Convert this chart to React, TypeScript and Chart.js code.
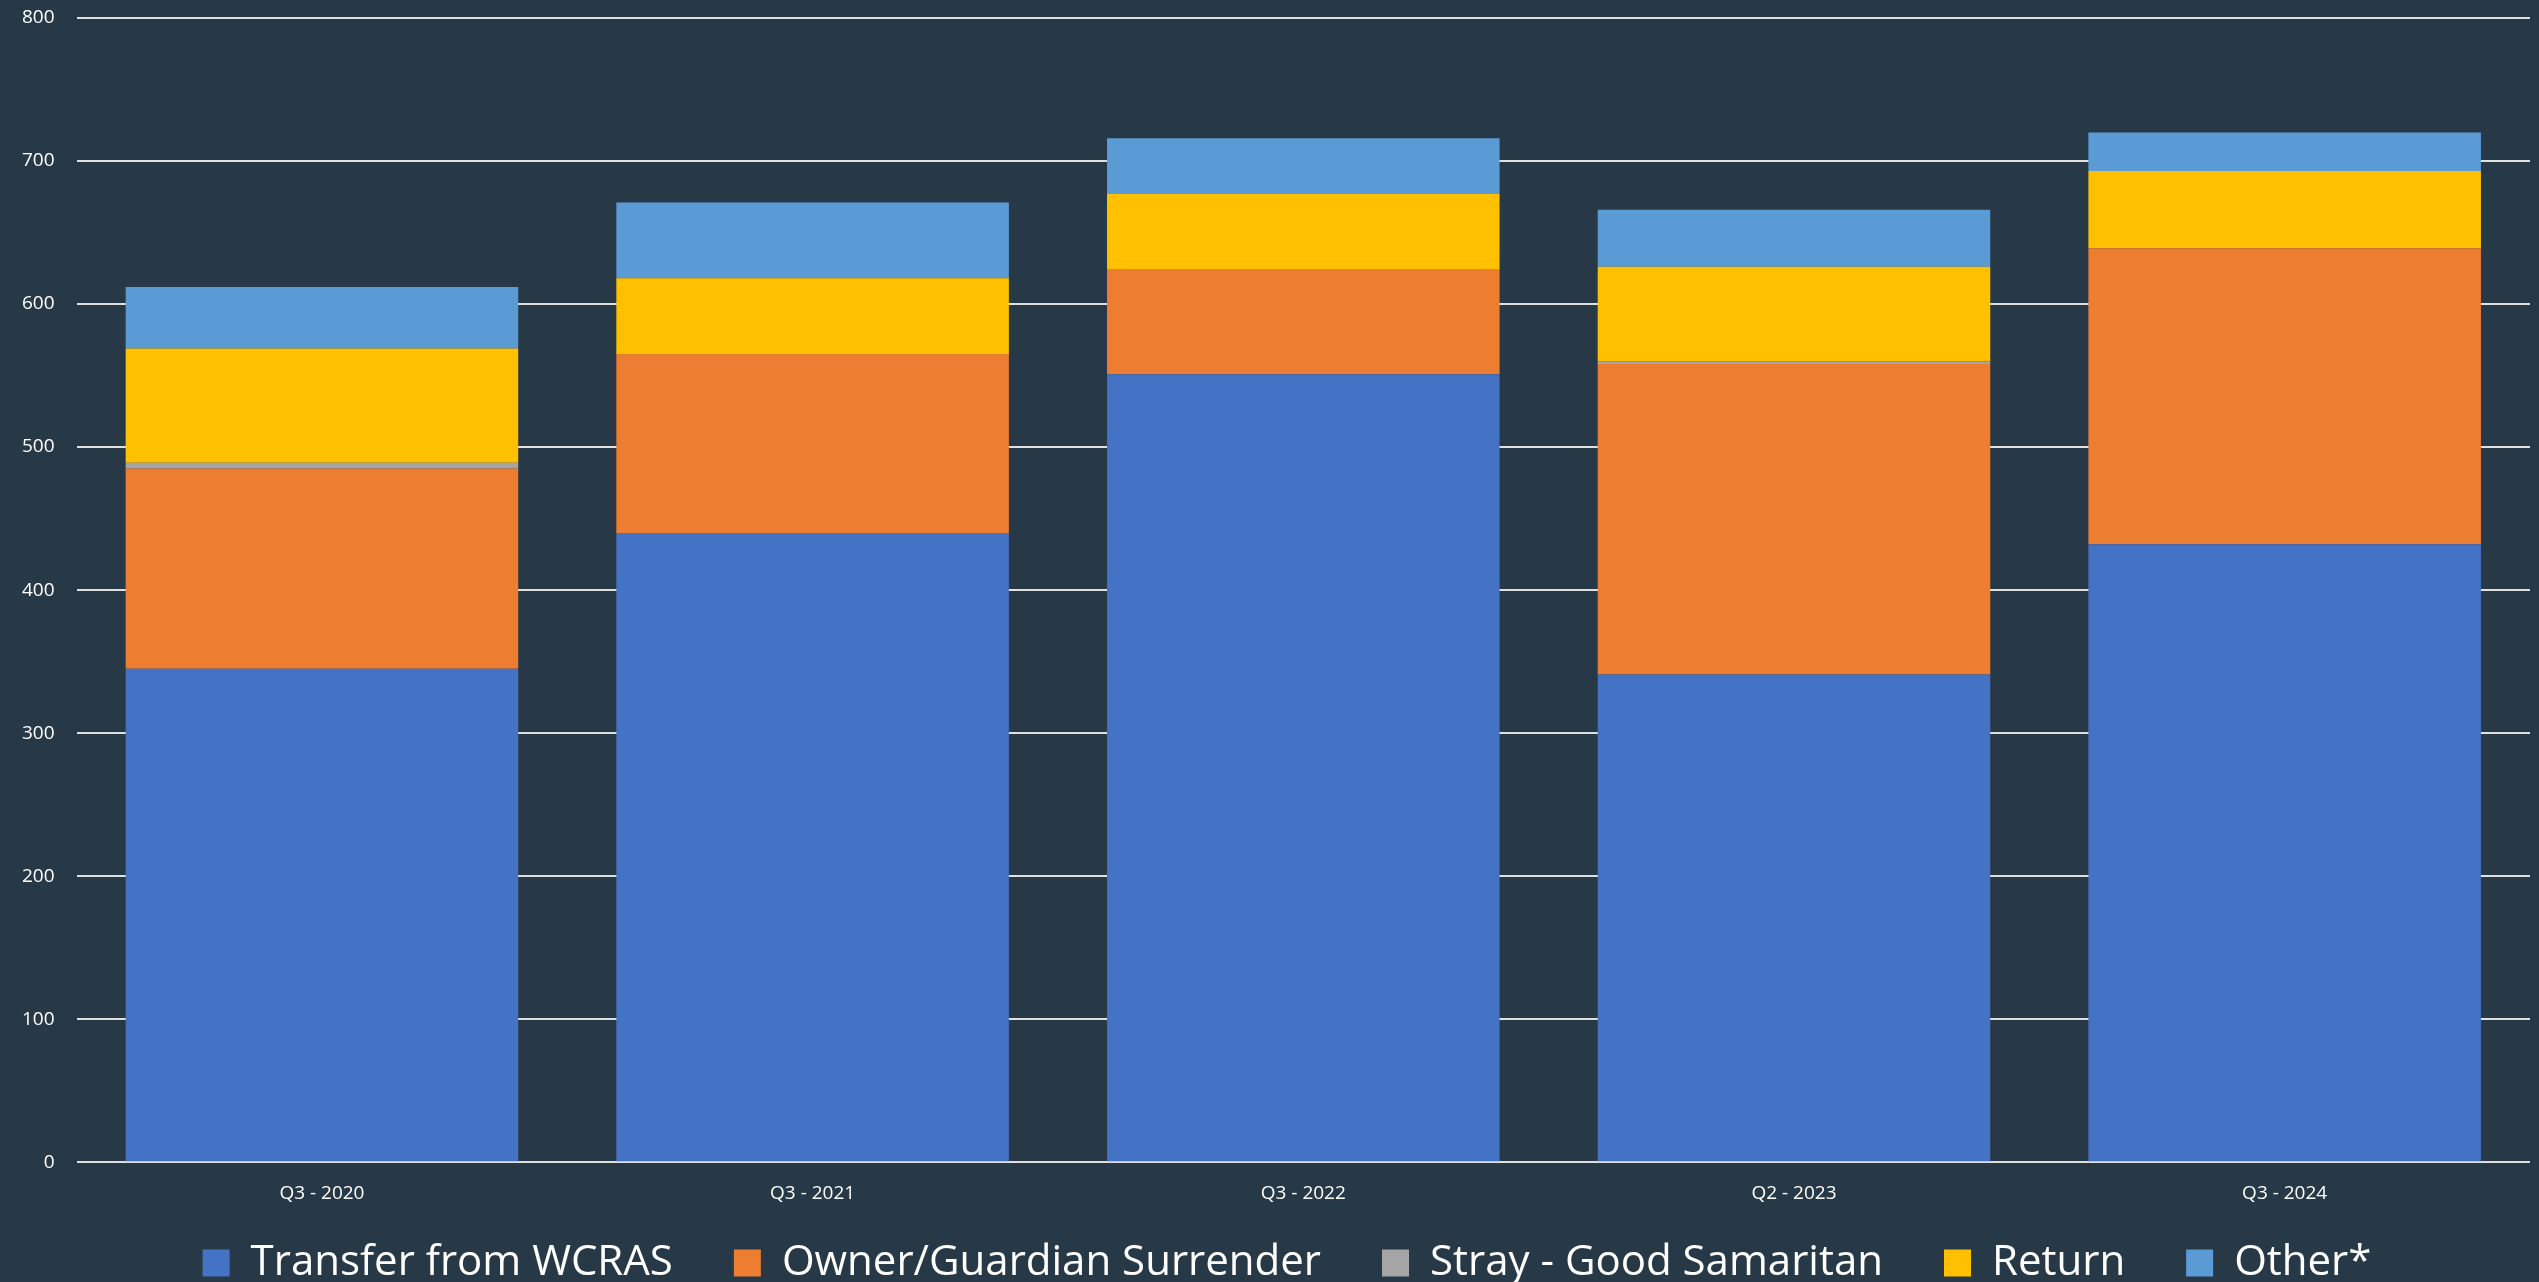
import React, { useEffect, useRef } from "react";
import { Chart, registerables } from "chart.js";

Chart.register(...registerables);

const categories = ["Q3 - 2020", "Q3 - 2021", "Q3 - 2022", "Q2 - 2023", "Q3 - 2024"];
const transferFromWCRAS = [345, 440, 551, 341, 432];
const ownerSurrender = [140, 125, 73, 217, 207];
const straySamaritan = [4, 0, 0, 2, 0];
const returnValues = [80, 53, 53, 66, 54];
const otherValues = [43, 53, 39, 40, 27];
const yTicks = [0, 100, 200, 300, 400, 500, 600, 700, 800];

const BG = "#273947";
const FONT = "'Open Sans', 'DejaVu Sans', sans-serif";
const LEGEND_LAYOUT_H = 57;
const LEGEND_DRAW_SHIFT = 44;
const LEGEND_DRAW_SHIFT_X = 22;

const legendTweak = {
  id: "legendTweak",
  beforeInit(chart: any) {
    const lg = chart.legend;
    if (!lg || lg.__tweaked) return;
    lg.__tweaked = true;
    const origFit = lg.fit;
    lg.fit = function (this: any) {
      origFit.call(this);
      this.height = LEGEND_LAYOUT_H;
    };
    const origDraw = lg.draw;
    lg.draw = function (this: any, ...args: any[]) {
      const t = this.top;
      const b = this.bottom;
      const l = this.left;
      const r = this.right;
      this.top = t - LEGEND_DRAW_SHIFT;
      this.bottom = chart.height;
      this.left = l + LEGEND_DRAW_SHIFT_X;
      this.right = r + LEGEND_DRAW_SHIFT_X;
      origDraw.apply(this, args);
      this.top = t;
      this.bottom = b;
      this.left = l;
      this.right = r;
    };
  },
};

export default function App() {
  const ref = useRef<HTMLCanvasElement | null>(null);

  useEffect(() => {
    document.body.style.margin = "0";
    document.body.style.background = BG;
    document.body.style.overflow = "hidden";
    const ctx = ref.current;
    if (!ctx) return;
    const chart = new Chart(ctx, {
      type: "bar",
      data: {
        labels: categories,
        datasets: [
          { label: "Transfer from WCRAS", data: transferFromWCRAS, backgroundColor: "#4472C4" },
          { label: "Owner/Guardian Surrender", data: ownerSurrender, backgroundColor: "#ED7D31" },
          { label: "Stray - Good Samaritan", data: straySamaritan, backgroundColor: "#A5A5A5" },
          { label: "Return", data: returnValues, backgroundColor: "#FFC000" },
          { label: "Other*", data: otherValues, backgroundColor: "#5B9BD5" },
        ],
      },
      plugins: [legendTweak],
      options: {
        animation: false,
        responsive: false,
        maintainAspectRatio: false,
        layout: { padding: { left: 0, right: 9, top: 18, bottom: 0 } },
        datasets: {
          bar: { categoryPercentage: 1, barPercentage: 0.8, borderWidth: 0 },
        },
        scales: {
          x: {
            stacked: true,
            grid: { display: false, drawTicks: false },
            border: { display: false },
            ticks: {
              color: "#ffffff",
              font: { family: FONT, size: 19 },
              padding: 20,
              maxRotation: 0,
            },
          },
          y: {
            stacked: true,
            min: 0,
            max: 800,
            afterBuildTicks: (axis: any) => {
              axis.ticks = yTicks.map((v) => ({ value: v }));
            },
            afterFit: (axis: any) => {
              axis.paddingTop = 0;
              axis.paddingBottom = 0;
            },
            grid: { color: "#e0e0e0", lineWidth: 2, drawTicks: false },
            border: { display: false },
            ticks: {
              color: "#ffffff",
              font: { family: FONT, size: 19 },
              padding: 22,
            },
          },
        },
        plugins: {
          legend: {
            position: "bottom",
            labels: {
              color: "#ffffff",
              font: { family: FONT, size: 42 },
              boxWidth: 27,
              boxHeight: 27,
              padding: 61,
            },
          },
          tooltip: { enabled: false },
        },
      },
    });
    return () => chart.destroy();
  }, []);

  return (
    <div style={{ width: 2539, height: 1282, background: BG }}>
      <canvas ref={ref} width={2539} height={1282} style={{ width: 2539, height: 1282, display: "block" }} />
    </div>
  );
}
